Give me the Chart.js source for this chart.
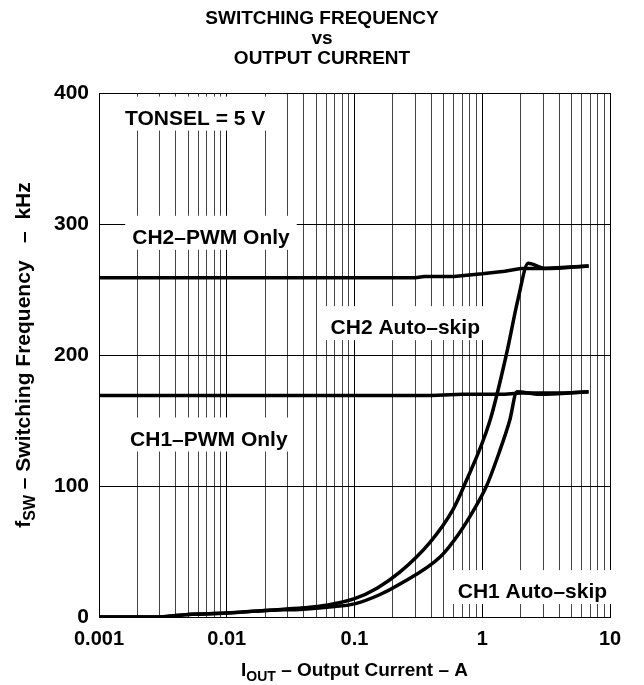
<!DOCTYPE html>
<html lang="en">
<head>
  <meta charset="UTF-8">
  <title>Switching frequency vs output current</title>
  <script src="https://cdn.jsdelivr.net/npm/chart.js@4/dist/chart.umd.min.js"></script>
  <style>
    body { margin: 0; background: #fff; }
  </style>
</head>
<body>
<canvas id="chart" width="644" height="685"></canvas>

<script>
// output current (A) / switching frequency (kHz) for each curve
const ch2PwmX = [0.001, 0.01, 0.1, 0.3, 0.35, 0.6, 1, 1.5, 2, 3, 4.5, 6.8];
const ch2PwmY = [259, 259, 259, 259, 260, 260, 262, 264, 266, 266, 267, 268];

const ch1PwmX = [0.001, 0.01, 0.1, 0.4, 0.7, 1, 1.5, 2, 3, 4.5, 6.8];
const ch1PwmY = [169, 169, 169, 169, 170, 170, 170, 171, 171, 171, 172];

const ch2SkipX = [0.001, 0.003, 0.005, 0.01, 0.02, 0.04, 0.06, 0.1, 0.15, 0.225, 0.39, 0.59, 0.72, 1.15, 1.55, 1.91, 2.29, 3.1, 6.8];
const ch2SkipY = [0, 0, 2, 3, 5, 7, 9, 14, 22, 34, 57, 82, 100, 150, 201, 243, 270, 266, 268];

const ch1SkipX = [0.001, 0.003, 0.005, 0.01, 0.02, 0.04, 0.07, 0.1, 0.157, 0.225, 0.47, 0.65, 0.85, 1.08, 1.35, 1.64, 1.87, 2.8, 6.8];
const ch1SkipY = [0, 0, 2, 3, 5, 6, 8, 10, 17, 25, 46, 63, 81, 100, 125, 150, 172, 170, 172];

// axis ticks
const xDecades = [0.001, 0.01, 0.1, 1, 10];
const xTickLabels = ['0.001', '0.01', '0.1', '1', '10'];
const yTicks = [0, 100, 200, 300, 400];

const titleLines = ['SWITCHING FREQUENCY', 'vs', 'OUTPUT CURRENT'];

// text boxes inside the plot: left edge of text at (x, y centre) in data units
const notes = [
  { text: 'TONSEL = 5 V', x: 0.0016, y: 382 },
  { text: 'CH2\u2013PWM Only', x: 0.00182, y: 291 },
  { text: 'CH2 Auto\u2013skip', x: 0.065, y: 222 },
  { text: 'CH1\u2013PWM Only', x: 0.00175, y: 137 },
  { text: 'CH1 Auto\u2013skip', x: 0.643, y: 20.5 }
];

const FONT = '"Liberation Sans", Arial, Helvetica, sans-serif';

function pts(xs, ys) {
  return xs.map((x, i) => ({ x: x, y: ys[i] }));
}

function decadeIndex(v) {
  return xDecades.findIndex(d => Math.abs(d - v) < d * 1e-6);
}

// 1..9 in every decade, plus the last decade
const xGrid = [];
for (let i = 0; i < xDecades.length - 1; i++) {
  for (let m = 1; m < 10; m++) xGrid.push(m * xDecades[i]);
}
xGrid.push(xDecades[xDecades.length - 1]);

const line = (data, smooth) => ({
  data: data,
  borderColor: '#000',
  borderWidth: 3.5,
  pointRadius: 0,
  fill: false,
  tension: smooth ? 0.4 : 0,
  cubicInterpolationMode: smooth ? 'monotone' : 'default'
});

// white label boxes, drawn over the grid but under the curves
const notesPlugin = {
  id: 'notes',
  beforeDatasetsDraw(chart) {
    const ctx = chart.ctx;
    const xs = chart.scales.x, ys = chart.scales.y;
    ctx.save();
    ctx.font = 'bold 21px ' + FONT;
    ctx.textBaseline = 'alphabetic';
    notes.forEach(n => {
      const px = xs.getPixelForValue(n.x);
      const py = ys.getPixelForValue(n.y);
      const w = ctx.measureText(n.text).width;
      ctx.fillStyle = '#fff';
      ctx.fillRect(px - 7, py - 20, w + 14, 34);
      ctx.fillStyle = '#000';
      ctx.fillText(n.text, px, py + 8);
    });
    ctx.restore();
  }
};

// text runs with subscripts, centred on the current origin
function drawSub(ctx, parts, size) {
  const subSize = Math.round(size * 0.75);
  let total = 0;
  parts.forEach(p => {
    ctx.font = 'bold ' + (p.sub ? subSize : size) + 'px ' + FONT;
    p.w = ctx.measureText(p.t).width;
    total += p.w;
  });
  let x = -total / 2;
  parts.forEach(p => {
    ctx.font = 'bold ' + (p.sub ? subSize : size) + 'px ' + FONT;
    ctx.fillText(p.t, x, p.sub ? 5 : 0);
    x += p.w;
  });
}

const textPlugin = {
  id: 'texts',
  afterDraw(chart) {
    const ctx = chart.ctx;
    const a = chart.chartArea;
    ctx.save();
    ctx.fillStyle = '#000';
    ctx.textBaseline = 'alphabetic';

    // title, centred on the page
    ctx.textAlign = 'center';
    ctx.font = 'bold 19px ' + FONT;
    titleLines.forEach((t, i) => ctx.fillText(t, chart.width / 2, 24 + i * 20));

    ctx.textAlign = 'left';
    ctx.save();
    ctx.translate((a.left + a.right) / 2, 676);
    drawSub(ctx, [{ t: 'I' }, { t: 'OUT', sub: true }, { t: ' \u2013 Output Current \u2013 A' }], 19);
    ctx.restore();

    ctx.save();
    ctx.translate(30, (a.top + a.bottom) / 2);
    ctx.rotate(-Math.PI / 2);
    drawSub(ctx, [{ t: 'f' }, { t: 'SW', sub: true }, { t: ' \u2013 Switching Frequency   \u2013  kHz' }], 21);
    ctx.restore();

    ctx.restore();
  }
};

const ctx = document.getElementById('chart').getContext('2d');
new Chart(ctx, {
  type: 'line',
  data: {
    datasets: [
      line(pts(ch2PwmX, ch2PwmY), false),
      line(pts(ch1PwmX, ch1PwmY), false),
      line(pts(ch2SkipX, ch2SkipY), true),
      line(pts(ch1SkipX, ch1SkipY), true)
    ]
  },
  options: {
    responsive: false,
    animation: false,
    devicePixelRatio: 1,
    layout: { padding: { left: 0, right: 34, top: 93, bottom: 0 } },
    plugins: {
      legend: { display: false },
      tooltip: { enabled: false },
      title: { display: false }
    },
    scales: {
      x: {
        type: 'logarithmic',
        min: 0.001,
        max: 10,
        afterBuildTicks: s => { s.ticks = xGrid.map(v => ({ value: v })); },
        afterFit: s => { s.height = 68; },
        grid: {
          color: c => (c.tick && decadeIndex(c.tick.value) >= 0) ? '#000' : '#444',
          lineWidth: 1,
          drawTicks: false
        },
        border: { color: '#000', width: 1 },
        ticks: {
          autoSkip: false,
          maxRotation: 0,
          padding: 10,
          color: '#000',
          font: { family: FONT, size: 20, weight: 'bold' },
          callback: v => {
            const k = decadeIndex(v);
            return k >= 0 ? xTickLabels[k] : '';
          }
        }
      },
      y: {
        type: 'linear',
        min: 0,
        max: 400,
        afterBuildTicks: s => { s.ticks = yTicks.map(v => ({ value: v })); },
        afterFit: s => { s.width = 99; },
        grid: { color: '#000', lineWidth: 1, drawTicks: false },
        border: { color: '#000', width: 1 },
        ticks: {
          padding: 10,
          color: '#000',
          font: { family: FONT, size: 21, weight: 'bold' }
        }
      }
    }
  },
  plugins: [notesPlugin, textPlugin]
});
</script>
</body>
</html>
